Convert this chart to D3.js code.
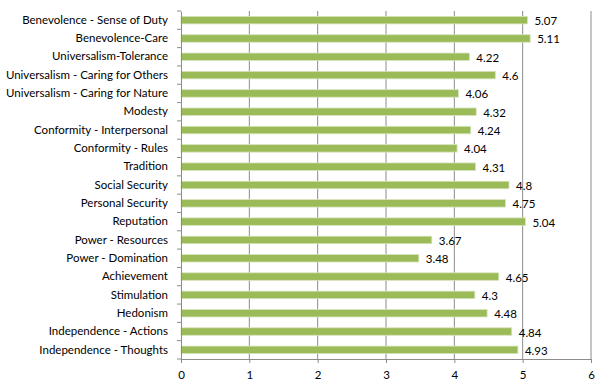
<!DOCTYPE html>
<html>
<head>
<meta charset="utf-8">
<script src="https://cdn.jsdelivr.net/npm/d3@7"></script>
<style>
  body { margin: 0; background: #fff; }
  svg { display: block; }
</style>
</head>
<body>
<div id="chart"></div>
<script>
// categories top to bottom, with their scores
let categories = [
    'Benevolence - Sense of Duty', 'Benevolence-Care', 'Universalism-Tolerance',
    'Universalism - Caring for Others', 'Universalism - Caring for Nature', 'Modesty',
    'Conformity - Interpersonal', 'Conformity - Rules', 'Tradition', 'Social Security',
    'Personal Security', 'Reputation', 'Power - Resources', 'Power - Domination',
    'Achievement', 'Stimulation', 'Hedonism', 'Independence - Actions', 'Independence - Thoughts'
];
let values = [5.07, 5.11, 4.22, 4.6, 4.06, 4.32, 4.24, 4.04, 4.31, 4.8, 4.75, 5.04, 3.67, 3.48, 4.65, 4.3, 4.48, 4.84, 4.93];
let xTicks = [0, 1, 2, 3, 4, 5, 6];

let tempData = categories.map((c, i) => ({ name: c, value: values[i] }));

let margin = { top: 11, right: 9, bottom: 26, left: 181 };
let totalWidth = 600;
let totalHeight = 385;
let innerWidth = totalWidth - margin.left - margin.right;
let innerHeight = totalHeight - margin.top - margin.bottom;

let x = d3.scaleLinear().domain([0, 6]).range([0, innerWidth]);
let y = d3.scaleBand().domain(categories).range([0, innerHeight]);

let svg = d3.select("#chart").append("svg")
    .attr("width", totalWidth)
    .attr("height", totalHeight)
    .append("g")
    .attr("transform", "translate(" + margin.left + "," + margin.top + ")");

// vertical gridlines
svg.selectAll(".grid")
    .data(xTicks.slice(1))
    .enter().append("line")
    .attr("x1", d => x(d)).attr("x2", d => x(d))
    .attr("y1", 0).attr("y2", innerHeight)
    .style("stroke", "#8c8c8c")
    .style("stroke-width", 1);

// bars
let barH = 7.5;
svg.selectAll(".bar")
    .data(tempData)
    .enter().append("rect")
    .attr("x", 0)
    .attr("y", d => y(d.name) + y.bandwidth() / 2 - barH / 2)
    .attr("width", d => x(d.value))
    .attr("height", barH)
    .style("fill", "#9bbb59")
    .style("stroke", "#d7e4bd")
    .style("stroke-width", 0.8);

// value labels
svg.selectAll(".val")
    .data(tempData)
    .enter().append("text")
    .attr("x", d => x(d.value) + 7)
    .attr("y", d => y(d.name) + y.bandwidth() / 2 + 1)
    .attr("dy", "0.35em")
    .attr("font-family", "Lato, sans-serif")
    .attr("font-size", 11.5)
    .attr("fill", "#000")
    .text(d => d.value);

// x axis
let xAxis = svg.append("g")
    .attr("transform", "translate(0," + innerHeight + ")")
    .call(d3.axisBottom(x).tickValues(xTicks).tickSize(4).tickPadding(8).tickFormat(d3.format("d")))
    .attr("font-family", "Lato, sans-serif")
    .attr("font-size", 11.5);
xAxis.select(".domain").style("stroke", "#8c8c8c");
xAxis.selectAll("line").style("stroke", "#8c8c8c");
xAxis.selectAll("text").attr("fill", "#000");

// y axis: ticks sit on category boundaries
let yAxis = svg.append("g")
    .call(d3.axisLeft(y).tickSize(0).tickPadding(13))
    .attr("font-family", "Lato, sans-serif")
    .attr("font-size", 11.5);
yAxis.select(".domain").style("stroke", "#8c8c8c");
yAxis.selectAll("text").attr("fill", "#000");
svg.selectAll(".ytick")
    .data(d3.range(categories.length + 1))
    .enter().append("line")
    .attr("x1", -4).attr("x2", 0)
    .attr("y1", i => i * y.step()).attr("y2", i => i * y.step())
    .style("stroke", "#8c8c8c");
</script>
</body>
</html>
